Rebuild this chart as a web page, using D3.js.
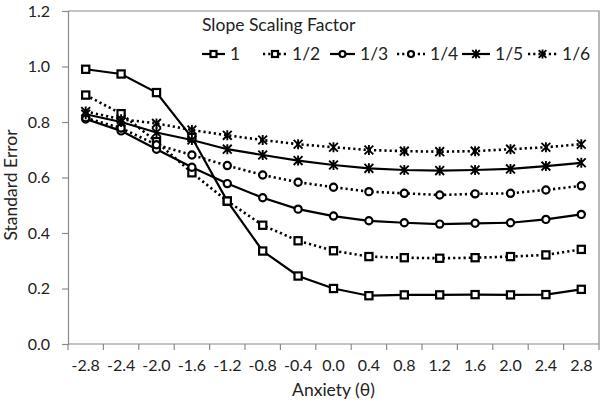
<!DOCTYPE html>
<html>
<head>
<meta charset="utf-8">
<script src="https://cdn.jsdelivr.net/npm/d3@7"></script>
<style>
  html, body { margin: 0; padding: 0; background: #fff; }
  svg { display: block; }
  text { font-family: Lato, "Open Sans", sans-serif; fill: #222; }
</style>
</head>
<body>
<svg id="chart" width="604" height="409"></svg>
<script>
// ---- data ----
const categories = ["-2.8","-2.4","-2.0","-1.6","-1.2","-0.8","-0.4","0.0","0.4","0.8","1.2","1.6","2.0","2.4","2.8"];
const s1   = [0.990, 0.973, 0.906, 0.744, 0.515, 0.335, 0.245, 0.200, 0.174, 0.177, 0.177, 0.178, 0.177, 0.178, 0.197];
const s1_2 = [0.897, 0.830, 0.729, 0.617, 0.515, 0.428, 0.372, 0.336, 0.315, 0.311, 0.309, 0.311, 0.315, 0.321, 0.341];
const s1_3 = [0.811, 0.768, 0.702, 0.637, 0.578, 0.527, 0.486, 0.461, 0.444, 0.437, 0.432, 0.435, 0.437, 0.449, 0.467];
const s1_4 = [0.815, 0.778, 0.718, 0.681, 0.643, 0.609, 0.583, 0.565, 0.549, 0.543, 0.537, 0.541, 0.543, 0.555, 0.570];
const s1_5 = [0.828, 0.800, 0.762, 0.735, 0.702, 0.681, 0.661, 0.645, 0.633, 0.627, 0.625, 0.627, 0.631, 0.641, 0.653];
const s1_6 = [0.838, 0.810, 0.795, 0.771, 0.752, 0.735, 0.720, 0.709, 0.699, 0.695, 0.693, 0.695, 0.702, 0.709, 0.720];
const seriesNames = ["1", "1/2", "1/3", "1/4", "1/5", "1/6"];
const yTicks = [0.0, 0.2, 0.4, 0.6, 0.8, 1.0, 1.2];

const series = [
  { name: seriesNames[0], values: s1,   dotted: false, marker: "square" },
  { name: seriesNames[1], values: s1_2, dotted: true,  marker: "square" },
  { name: seriesNames[2], values: s1_3, dotted: false, marker: "circle" },
  { name: seriesNames[3], values: s1_4, dotted: true,  marker: "circle" },
  { name: seriesNames[4], values: s1_5, dotted: false, marker: "star" },
  { name: seriesNames[5], values: s1_6, dotted: true,  marker: "star" }
];

// ---- layout ----
const mLeft = 68, mRight = 599, mTop = 11, mBottom = 344;
const svg = d3.select("#chart");

const x = d3.scaleBand().domain(categories).range([mLeft, mRight]).paddingInner(0).paddingOuter(0);
const y = d3.scaleLinear().domain([0, 1.2]).range([mBottom, mTop]);
const cx = c => x(c) + x.bandwidth() / 2;

// plot frame (top & right)
svg.append("path")
  .attr("d", `M${mLeft},${mTop}H${mRight}V${mBottom}`)
  .attr("fill", "none").attr("stroke", "#8a8a8a").attr("stroke-width", 1.2);

// y axis
const yAxis = svg.append("g").attr("transform", `translate(${mLeft},0)`)
  .call(d3.axisLeft(y).tickValues(yTicks).tickFormat(d3.format(".1f")).tickSize(6).tickPadding(12));
yAxis.select(".domain").attr("stroke", "#8a8a8a").attr("stroke-width", 1.2);
yAxis.selectAll(".tick line").attr("stroke", "#8a8a8a").attr("stroke-width", 1.2);
yAxis.selectAll(".tick text").style("font-size", "16px").attr("fill", "#222")
  .style("font-family", "Lato, sans-serif");

// x axis (category) with tick marks at band boundaries
const xAxisG = svg.append("g").attr("transform", `translate(0,${mBottom})`);
xAxisG.append("line").attr("x1", mLeft).attr("x2", mRight).attr("y1", 0).attr("y2", 0)
  .attr("stroke", "#8a8a8a").attr("stroke-width", 1.2);
const boundaries = categories.map(c => x(c)).concat([mRight]);
xAxisG.selectAll("line.tk").data(boundaries).enter().append("line").attr("class", "tk")
  .attr("x1", d => d).attr("x2", d => d).attr("y1", 0).attr("y2", 6)
  .attr("stroke", "#8a8a8a").attr("stroke-width", 1.2);
xAxisG.selectAll("text").data(categories).enter().append("text")
  .attr("x", d => cx(d)).attr("y", 27).attr("text-anchor", "middle")
  .style("font-size", "16px").text(d => d);

// axis titles
svg.append("text").attr("x", (mLeft + mRight) / 2).attr("y", 396).attr("text-anchor", "middle")
  .style("font-size", "17.5px").text("Anxiety (θ)");
svg.append("text").attr("transform", `translate(17,185) rotate(-90)`)
  .attr("text-anchor", "middle").style("font-size", "17.5px").text("Standard Error");

// markers
function drawMarker(g, type, px, py, r) {
  if (type === "square") {
    g.append("rect").attr("x", px - r).attr("y", py - r).attr("width", 2 * r).attr("height", 2 * r)
      .attr("fill", "#fff").attr("stroke", "#000").attr("stroke-width", 2.2);
  } else if (type === "circle") {
    g.append("circle").attr("cx", px).attr("cy", py).attr("r", r)
      .attr("fill", "#fff").attr("stroke", "#000").attr("stroke-width", 2.2);
  } else {
    const s = r + 0.8;
    g.append("path")
      .attr("d", `M${px - s},${py - s}L${px + s},${py + s}M${px - s},${py + s}L${px + s},${py - s}M${px},${py - s - 0.6}V${py + s + 0.6}`)
      .attr("stroke", "#000").attr("stroke-width", 1.9).attr("fill", "none");
  }
}

const line = d3.line().x((d, i) => cx(categories[i])).y(d => y(d));

series.forEach(s => {
  const g = svg.append("g");
  g.append("path").datum(s.values).attr("d", line)
    .attr("fill", "none").attr("stroke", "#000")
    .attr("stroke-width", s.dotted ? 2.6 : 2.2)
    .attr("stroke-dasharray", s.dotted ? "2.2,3" : null);
  s.values.forEach((v, i) => drawMarker(g, s.marker, cx(categories[i]), y(v), 3.6));
});

// legend
svg.append("text").attr("x", 202).attr("y", 31).style("font-size", "17.5px").text("Slope Scaling Factor");
const legX = [202, 263, 330, 397, 462, 528];
const legW = [23, 24, 25, 28, 28, 29];
const legY = 54;
series.forEach((s, i) => {
  const g = svg.append("g");
  const x0 = legX[i], x1 = legX[i] + legW[i];
  g.append("line").attr("x1", x0).attr("x2", x1).attr("y1", legY).attr("y2", legY)
    .attr("stroke", "#000").attr("stroke-width", s.dotted ? 2.6 : 2.2)
    .attr("stroke-dasharray", s.dotted ? "2.2,3" : null);
  drawMarker(g, s.marker, (x0 + x1) / 2, legY, 3);
  g.append("text").attr("x", x1 + 5).attr("y", legY + 6).style("font-size", "17.5px").text(s.name);
});
</script>
</body>
</html>
